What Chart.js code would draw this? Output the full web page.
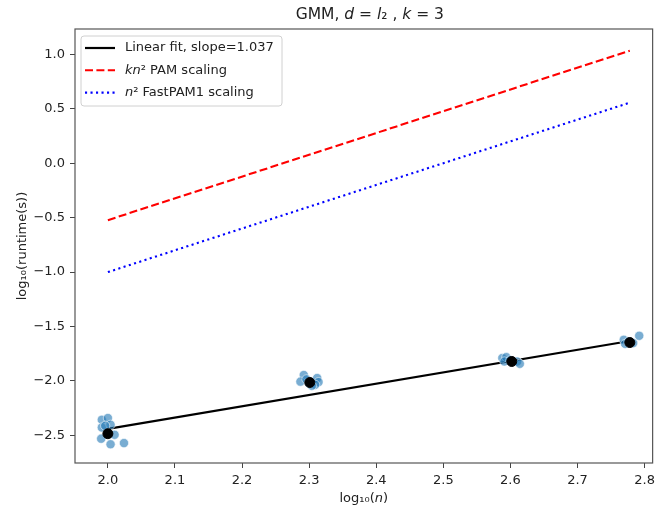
<!DOCTYPE html>
<html>
<head>
<meta charset="utf-8">
<script src="https://cdn.jsdelivr.net/npm/chart.js@4/dist/chart.umd.min.js"></script>
<style>
  html, body { margin: 0; padding: 0; background: #fff; }
  #wrap { width: 660px; height: 507px; }
</style>
</head>
<body>
<div id="wrap"><canvas id="gmmChart" width="660" height="507"></canvas></div>
<script>
// log10(n) for n = 100, 200, 400, 600 and the mean log10(runtime)
const meanX = [2.0, 2.301, 2.602, 2.778];
const meanY = [-2.484, -2.014, -1.821, -1.647];

// individual runs (jittered in x)
const runX = [1.991, 2.000, 1.991, 2.004, 1.996, 2.010, 1.990, 2.004, 2.024,
              2.292, 2.287, 2.296, 2.312, 2.314, 2.309, 2.304, 2.300,
              2.588, 2.594, 2.610, 2.614, 2.591, 2.600,
              2.769, 2.792, 2.771, 2.783, 2.776];
const runY = [-2.356, -2.340, -2.427, -2.402, -2.411, -2.494, -2.530, -2.581, -2.570,
              -1.945, -2.006, -1.985, -1.973, -2.010, -2.035, -2.044, -2.020,
              -1.790, -1.781, -1.821, -1.842, -1.821, -1.810,
              -1.622, -1.585, -1.659, -1.652, -1.640];

// reference lines (end points)
const lineX = [2.0, 2.778];
const fitY = [-2.440, -1.633];
const pamY = [-0.523, 1.033];
const fastY = [-1.000, 0.556];

const xTicks = [2.0, 2.1, 2.2, 2.3, 2.4, 2.5, 2.6, 2.7, 2.8];
const yTicks = [-2.5, -2.0, -1.5, -1.0, -0.5, 0.0, 0.5, 1.0];

const FONT = "'DejaVu Sans', sans-serif";
const pts = (xs, ys) => xs.map((x, i) => ({ x: x, y: ys[i] }));

// draw a row of text pieces, some of them italic
function drawRuns(ctx, runs, x, y, size, align) {
    let total = 0;
    runs.forEach(r => {
        ctx.font = (r[1] === 'i' ? 'italic ' : '') + size + 'px ' + FONT;
        total += ctx.measureText(r[0]).width;
    });
    let cx = align === 'center' ? x - total / 2 : x;
    ctx.textBaseline = 'middle';
    ctx.textAlign = 'left';
    runs.forEach(r => {
        ctx.font = (r[1] === 'i' ? 'italic ' : '') + size + 'px ' + FONT;
        ctx.fillText(r[0], cx, y);
        cx += ctx.measureText(r[0]).width;
    });
}

const decorPlugin = {
    id: 'decor',
    afterDraw(chart) {
        const ctx = chart.ctx;
        const a = chart.chartArea;
        ctx.save();
        // spines
        ctx.strokeStyle = '#555';
        ctx.lineWidth = 1.2;
        ctx.strokeRect(a.left, a.top, a.right - a.left, a.bottom - a.top);

        ctx.fillStyle = '#222';
        // title
        drawRuns(ctx, [['GMM, ', ''], ['d', 'i'], [' = ', ''], ['l', 'i'], ['\u2082', ''],
                       [' , ', ''], ['k', 'i'], [' = 3', '']], (a.left + a.right) / 2 + 6, 15, 15.5, 'center');
        // x axis label
        drawRuns(ctx, [['log\u2081\u2080(', ''], ['n', 'i'], [')', '']], (a.left + a.right) / 2, 499, 13, 'center');

        // legend
        const lx = 81, ly = 36, lw = 201, lh = 70;
        ctx.beginPath();
        ctx.roundRect(lx, ly, lw, lh, 3);
        ctx.fillStyle = 'rgba(255,255,255,0.85)';
        ctx.fill();
        ctx.strokeStyle = '#d0d0d0';
        ctx.lineWidth = 1;
        ctx.stroke();

        const items = [
            { color: '#000', dash: [], width: 2.2, runs: [['Linear fit, slope=1.037', '']] },
            { color: '#ff0000', dash: [8, 3.4], width: 2.1, runs: [['kn', 'i'], ['\u00b2 PAM scaling', '']] },
            { color: '#0000ff', dash: [2.1, 3.4], width: 2.1, runs: [['n', 'i'], ['\u00b2 FastPAM1 scaling', '']] }
        ];
        items.forEach((it, i) => {
            const yy = 48 + i * 22.3;
            ctx.beginPath();
            ctx.setLineDash(it.dash);
            ctx.strokeStyle = it.color;
            ctx.lineWidth = it.width;
            ctx.moveTo(85, yy);
            ctx.lineTo(115, yy);
            ctx.stroke();
            ctx.setLineDash([]);
            ctx.fillStyle = '#222';
            drawRuns(ctx, it.runs, 125, yy, 13, 'left');
        });
        ctx.restore();
    }
};

new Chart(document.getElementById('gmmChart'), {
    type: 'scatter',
    data: {
        datasets: [
            {
                label: 'mean',
                data: pts(meanX, meanY),
                backgroundColor: '#000',
                borderColor: '#000',
                pointRadius: 5,
                order: 0
            },
            {
                label: 'runs',
                data: pts(runX, runY),
                backgroundColor: 'rgba(31, 119, 180, 0.6)',
                borderColor: 'rgba(255, 255, 255, 0.7)',
                borderWidth: 0.8,
                pointRadius: 4.6,
                order: 1
            },
            {
                label: 'Linear fit, slope=1.037',
                type: 'line',
                data: pts(lineX, fitY),
                borderColor: '#000',
                borderWidth: 2.2,
                pointRadius: 0,
                order: 2
            },
            {
                label: 'kn2 PAM scaling',
                type: 'line',
                data: pts(lineX, pamY),
                borderColor: '#ff0000',
                borderWidth: 2.1,
                borderDash: [8, 3.4],
                pointRadius: 0,
                order: 3
            },
            {
                label: 'n2 FastPAM1 scaling',
                type: 'line',
                data: pts(lineX, fastY),
                borderColor: '#0000ff',
                borderWidth: 2.1,
                borderDash: [2.1, 3.4],
                pointRadius: 0,
                order: 3
            }
        ]
    },
    options: {
        responsive: false,
        animation: false,
        layout: {
            padding: { top: 29, right: 4, left: 0, bottom: 0 }
        },
        plugins: {
            legend: { display: false },
            tooltip: { enabled: false },
            title: { display: false }
        },
        scales: {
            x: {
                type: 'linear',
                min: 1.951,
                max: 2.812,
                afterBuildTicks: function (scale) {
                    scale.ticks = xTicks.map(v => ({ value: v }));
                },
                afterFit: function (scale) {
                    scale.height = 44;
                },
                border: { display: false },
                grid: {
                    drawOnChartArea: false,
                    drawTicks: true,
                    tickLength: 5,
                    color: '#444'
                },
                ticks: {
                    padding: 5,
                    color: '#222',
                    font: { family: FONT, size: 13 },
                    maxRotation: 0,
                    callback: v => v.toFixed(1)
                }
            },
            y: {
                type: 'linear',
                min: -2.753,
                max: 1.232,
                afterBuildTicks: function (scale) {
                    scale.ticks = yTicks.map(v => ({ value: v }));
                },
                afterFit: function (scale) {
                    scale.width = 75;
                },
                border: { display: false },
                grid: {
                    drawOnChartArea: false,
                    drawTicks: true,
                    tickLength: 5,
                    color: '#444'
                },
                title: {
                    display: true,
                    text: 'log\u2081\u2080(runtime(s))',
                    color: '#222',
                    font: { family: FONT, size: 13 },
                    padding: { top: 15, bottom: 0 }
                },
                ticks: {
                    padding: 5,
                    color: '#222',
                    font: { family: FONT, size: 13 },
                    callback: v => v.toFixed(1).replace('-', '\u2212')
                }
            }
        }
    },
    plugins: [decorPlugin]
});
</script>
</body>
</html>
